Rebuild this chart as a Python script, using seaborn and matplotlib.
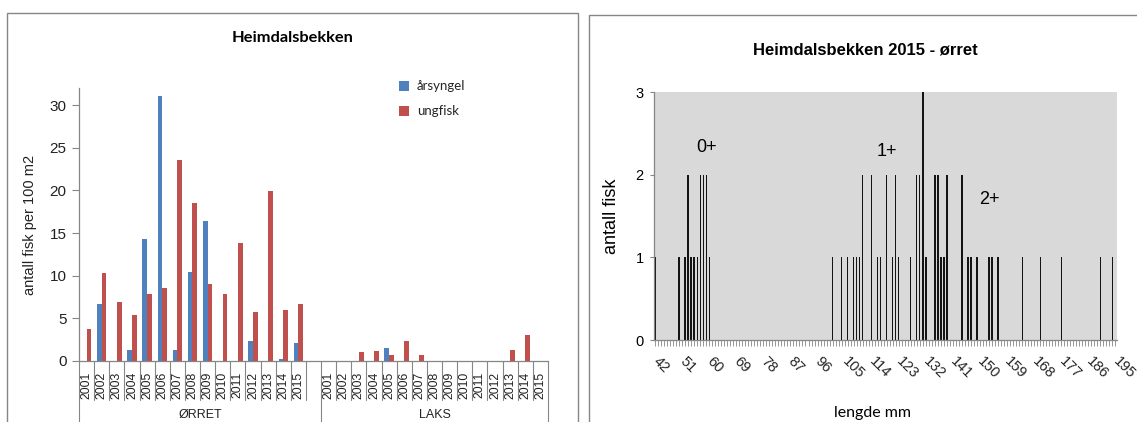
import matplotlib
matplotlib.use("Agg")
import matplotlib.pyplot as plt
from matplotlib import font_manager
from matplotlib.patches import Rectangle, Patch
from matplotlib.transforms import blended_transform_factory
import seaborn as sns
import pandas as pd

# ---------------- data ----------------
years = [2001, 2002, 2003, 2004, 2005, 2006, 2007, 2008,
         2009, 2010, 2011, 2012, 2013, 2014, 2015]
groups = ["ØRRET", "LAKS"]
series = ["årsyngel", "ungfisk"]

orret_arsyngel = [0, 6.7, 0, 1.3, 14.3, 31.1, 1.3, 10.4, 16.4, 0, 0, 2.3, 0, 0.2, 2.1]
orret_ungfisk = [3.7, 10.3, 6.9, 5.4, 7.8, 8.6, 23.6, 18.5, 9.0, 7.9, 13.8, 5.7, 19.9, 6.0, 6.7]
laks_arsyngel = [0, 0, 0, 0, 1.5, 0, 0, 0, 0, 0, 0, 0, 0, 0, 0]
laks_ungfisk = [0, 0, 1.1, 1.2, 0.7, 2.3, 0.7, 0, 0, 0, 0, 0, 1.3, 3.0, 0]

# length distribution 2015 (mm -> number of fish)
lengths = [42, 50, 52, 53, 54, 55, 56, 57, 58, 59, 60,
           101, 104, 106, 108, 109, 110, 111, 114, 116, 117, 119, 121, 122, 123,
           127, 129, 130, 131, 132, 135, 136, 137, 138, 139, 144, 146, 147, 149,
           153, 154, 156, 164, 170, 177, 190, 194]
counts = [1, 1, 1, 2, 1, 1, 1, 2, 2, 2, 1,
          1, 1, 1, 1, 1, 1, 2, 2, 1, 1, 2, 1, 2, 1,
          1, 2, 2, 3, 1, 2, 2, 1, 1, 2, 2, 1, 1, 1,
          1, 1, 1, 1, 1, 1, 1, 1]
length_min, length_max = 42, 195
age_labels = ["0+", "1+", "2+"]

BLUE = "#4F81BD"
RED = "#C0504D"
GRAY = "#868686"

# ---------------- fonts ----------------
installed = {f.name for f in font_manager.fontManager.ttflist}
NARROW = "Liberation Sans Narrow" if "Liberation Sans Narrow" in installed else "Liberation Sans"
ARIAL = "Liberation Sans"
CAL = "Lato"

sns.set_theme(style="white")
plt.rcParams["font.family"] = [ARIAL, "DejaVu Sans"]

W, H = 1137, 422
fig = plt.figure(figsize=(W / 100, H / 100), dpi=100)


def fx(px):
    return px / W


def fy(py):
    return (H - py) / H


# chart frames
fig.patches.append(Rectangle((fx(7), fy(440)), fx(578) - fx(7), fy(12.7) - fy(440),
                             transform=fig.transFigure, fill=False, ec=GRAY, lw=1.0))
fig.patches.append(Rectangle((fx(589), fy(440)), fx(1150) - fx(589), fy(14.5) - fy(440),
                             transform=fig.transFigure, fill=False, ec=GRAY, lw=1.0))

# ---------------- left chart ----------------
ax1 = fig.add_axes([fx(79), fy(361), fx(548) - fx(79), fy(88) - fy(361)])

rows = []
for g, a_vals, u_vals in [("ØRRET", orret_arsyngel, orret_ungfisk),
                          ("LAKS", laks_arsyngel, laks_ungfisk)]:
    for y, a, u in zip(years, a_vals, u_vals):
        rows.append({"slot": f"{g} {y}", "serie": series[0], "verdi": a})
        rows.append({"slot": f"{g} {y}", "serie": series[1], "verdi": u})
df = pd.DataFrame(rows)
order = [f"ØRRET {y}" for y in years] + ["_blank"] + [f"LAKS {y}" for y in years]

sns.barplot(data=df, x="slot", y="verdi", hue="serie", order=order, hue_order=series,
            palette=[BLUE, RED], saturation=1, width=0.62, linewidth=0,
            errorbar=None, ax=ax1, legend=False)

ax1.set_xlim(-0.5, len(order) - 0.5)
ax1.set_ylim(0, 32)
ax1.set_yticks([0, 5, 10, 15, 20, 25, 30])
ax1.set_yticklabels([str(v) for v in [0, 5, 10, 15, 20, 25, 30]], fontsize=11, color="#222222")
ax1.tick_params(axis="y", length=5, width=0.8, color=GRAY, direction="out", pad=4, left=True)
ax1.set_xticks([])
ax1.set_xlabel("")
ax1.set_ylabel("")
for s in ["top", "right"]:
    ax1.spines[s].set_visible(False)
for s in ["left", "bottom"]:
    ax1.spines[s].set_color(GRAY)
    ax1.spines[s].set_linewidth(0.9)

bt = blended_transform_factory(ax1.transData, fig.transFigure)
# multi-level category axis
for i, key in enumerate(order):
    if key != "_blank":
        ax1.text(i, fy(385), key.split()[1], rotation=90, ha="center", va="center",
                 fontsize=8.8, color="#222222", transform=bt)
for b in range(len(order) + 1):
    xb = b - 0.5
    long_line = b in (0, 16, len(order))
    ax1.plot([xb, xb], [fy(361), fy(440 if long_line else 400)], color=GRAY, lw=0.8,
             transform=bt, clip_on=False)
ax1.text(7.5, fy(415), groups[0], ha="center", va="center", fontsize=9, color="#222222", transform=bt)
ax1.text(23.0, fy(415), groups[1], ha="center", va="center", fontsize=9, color="#222222", transform=bt)

fig.text(fx(30), fy(225), "antall fisk per 100 m2", rotation=90, ha="center", va="center",
         fontsize=10.5, color="#222222")
fig.text(fx(293), fy(38), "Heimdalsbekken", ha="center", va="center", fontsize=11.8,
         fontweight="bold", family=CAL, color="black")

handles = [Patch(facecolor=BLUE, edgecolor="none"), Patch(facecolor=RED, edgecolor="none")]
fig.legend(handles, series, loc="upper left", bbox_to_anchor=(fx(394), fy(75)),
           frameon=False, handlelength=0.75, handleheight=0.75, handletextpad=0.6,
           labelspacing=1.0, borderaxespad=0, prop={"family": CAL, "size": 9.5})

# ---------------- right chart ----------------
ax2 = fig.add_axes([fx(653.5), fy(340), fx(1117) - fx(653.5), fy(92) - fy(340)])
ax2.set_facecolor("#D9D9D9")
len_order = list(range(length_min, length_max + 1))
dl = pd.DataFrame({"lengde": lengths, "antall": counts})
sns.barplot(data=dl, x="lengde", y="antall", order=len_order, color="#141414",
            saturation=1, width=0.42, linewidth=0, errorbar=None, ax=ax2)

ax2.set_xlim(-0.5, len(len_order) - 0.5)
ax2.set_ylim(0, 3)
ax2.set_yticks([0, 1, 2, 3])
ax2.set_yticklabels(["0", "1", "2", "3"], fontsize=10.5, family=NARROW, color="black")
ax2.tick_params(axis="y", length=3, width=0.8, color=GRAY, direction="out", pad=4, left=True)
major_idx = list(range(0, len(len_order), 9))
ax2.set_xticks(major_idx)
ax2.set_xticklabels([str(len_order[i]) for i in major_idx], rotation=-45, ha="left",
                    va="center", rotation_mode="anchor", fontsize=10.5, family=NARROW)
ax2.set_xticks(range(len(len_order)), minor=True)
ax2.tick_params(axis="x", which="both", length=4, width=0.6, color=GRAY, direction="out",
                bottom=True, pad=10)
ax2.set_xlabel("")
ax2.set_ylabel("")
for s in ["top", "right"]:
    ax2.spines[s].set_visible(False)
for s in ["left", "bottom"]:
    ax2.spines[s].set_color(GRAY)
    ax2.spines[s].set_linewidth(0.9)

bt2 = blended_transform_factory(ax2.transData, fig.transFigure)
for lab, xv, yp in zip(age_labels, [59, 119, 153], [147, 152, 199]):
    ax2.text(xv - length_min, fy(yp), lab, ha="center", va="center", fontsize=13,
             family=NARROW, color="black", transform=bt2)

fig.text(fx(612), fy(216), "antall fisk", rotation=90, ha="center", va="center",
         fontsize=13, color="black")
fig.text(fx(872), fy(413), "lengde mm", ha="center", va="center", fontsize=11.5,
         family=CAL, color="black")
fig.text(fx(865), fy(50), "Heimdalsbekken 2015 - ørret", ha="center", va="center",
         fontsize=12, fontweight="bold", family=NARROW, color="black")

fig.savefig("out.png", dpi=100)
